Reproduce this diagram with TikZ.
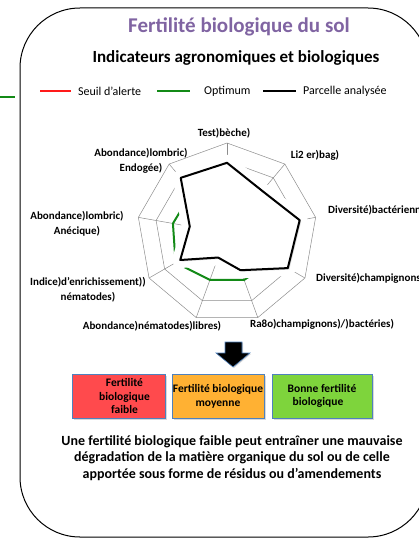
\documentclass[tikz,border=0pt]{standalone}
\usepackage{fontspec}
\setmainfont{Carlito}
\usetikzlibrary{calc,shadows}
\definecolor{titlepurple}{HTML}{8064A2}
\definecolor{alertred}{HTML}{FF1A1A}
\definecolor{optgreen}{HTML}{138A17}
\definecolor{boxred}{HTML}{FF4A4D}
\definecolor{boxorange}{HTML}{FFB133}
\definecolor{boxgreen}{HTML}{7ED43C}
\definecolor{boxedge}{HTML}{4F81BD}
\definecolor{gridgray}{HTML}{8C8C8C}

\begin{document}
\begin{tikzpicture}[x=1pt,y=-1pt,
                every node/.append style={black,inner sep=0pt},
                axislabel/.style={font=\fontsize{11}{15}\selectfont\bfseries,align=center},
                legline/.style={line width=2pt},
                classbox/.style={draw=boxedge,line width=0.6pt,minimum height=44pt,align=center,
                    font=\fontsize{11.5}{13.8}\selectfont\bfseries,
                    drop shadow={opacity=0.3,shadow xshift=1.5pt,shadow yshift=-1.5pt}}
            ]
                \useasboundingbox (0,0) rectangle (419,540);
                \clip (0,0) rectangle (419,540);
                \draw[line width=1pt,rounded corners=60pt] (20,8) rectangle (428,537);
                \draw[optgreen,line width=2.5pt] (0,97) -- (15,97);

                \node[titlepurple,font=\fontsize{21}{24}\selectfont\bfseries] (title) at (239,27) {Fertilité biologique du sol};
                \node[font=\fontsize{17}{20}\selectfont\bfseries] (subtitle) at (236,58) {Indicateurs agronomiques et biologiques};

                % legende
                \coordinate (l1a) at (40,91);  \coordinate (l1b) at (71,91);
                \coordinate (l2a) at (157,91); \coordinate (l2b) at (190,91);
                \coordinate (l3a) at (263,91); \coordinate (l3b) at (296,91);
                \draw[legline,alertred] (l1a) -- (l1b);
                \draw[legline,optgreen] (l2a) -- (l2b);
                \draw[legline,black] (l3a) -- (l3b);
                \node[anchor=west,font=\fontsize{12}{14}\selectfont] (leg1) at (78,91) {Seuil d’alerte};
                \node[anchor=west,font=\fontsize{12}{14}\selectfont] (leg2) at (204,91) {Optimum};
                \node[anchor=west,font=\fontsize{12}{14}\selectfont] (leg3) at (303,91) {Parcelle analysée};

                % toile
                \coordinate (ctr) at (227,233);
                \foreach \a in {90,50,...,-230}
                    \draw[gridgray,line width=0.5pt] (ctr) -- ($(ctr)+(\a:90pt)$);
                \foreach \r in {0.8,1}
                    \draw[gridgray,line width=0.5pt] ($(ctr)+(90:\r*90pt)$)
                        \foreach \a in {50,10,...,-230}{ -- ($(ctr)+(\a:\r*90pt)$)} -- cycle;

                \foreach \v [count=\i] in {0.6,0.6,0.6,0.6,0.555,0.555,0.66,0.61,0.6}
                    \coordinate (o\i) at ($(ctr)+({130-40*\i}:\v*90pt)$);
                \foreach \v [count=\i] in {0.78,0.61,0.82,0.78,0.44,0.29,0.6,0.42,0.8}
                    \coordinate (p\i) at ($(ctr)+({130-40*\i}:\v*90pt)$);

                \draw[optgreen,line width=2pt,line join=round]
                    (o1) -- (o2) -- (o3) -- (o4) -- (o5) -- (o6) -- (o7) -- (o8) -- (o9) -- cycle;
                \draw[white,line width=16pt,line join=round]
                    (p1) -- (p2) -- (p3) -- (p4) -- (p5) -- (p6) -- (p7) -- (p8) -- (p9) -- cycle;
                \draw[black,line width=2pt,line join=round,fill=white,
                      drop shadow={opacity=0.25,shadow xshift=1.5pt,shadow yshift=-1.5pt}]
                    (p1) -- (p2) -- (p3) -- (p4) -- (p5) -- (p6) -- (p7) -- (p8) -- (p9) -- cycle;

                \node[axislabel] (tb) at (224,133) {Test)bèche)};
                \node[axislabel] (lb) at (315,155) {Li2 er)bag)};
                \node[axislabel,anchor=west] (db) at (328,210) {Diversité)bactérienn};
                \node[axislabel,anchor=west] (dc) at (316,278) {Diversité)champignons};
                \node[axislabel] (rcb) at (322,324) {Ra8o)champignons)/)bactéries)};
                \node[axislabel] (anl) at (152,326) {Abondance)nématodes)libres)};
                \node[axislabel] (ien) at (88,289.5) {Indice)d’enrichissement))\\nématodes)};
                \node[axislabel] (ala) at (77,224) {Abondance)lombric)\\Anécique)};
                \node[axislabel] (ale) at (141,160.5) {Abondance)lombric)\\Endogée)};

                % fleche et classes
                \draw[boxedge,fill=black,line width=0.6pt,
                      drop shadow={opacity=0.3,shadow xshift=1pt,shadow yshift=-1pt}]
                    (225,342) -- (242,342) -- (242,353) -- (250,353) -- (233,367)
                    -- (216,353) -- (225,353) -- cycle;
                \node[classbox,fill=boxred,minimum width=93pt] (faible) at (118.5,396) {\hspace*{12pt}Fertilité\\\hspace*{12pt}biologique\\\hspace*{12pt}faible};
                \node[classbox,fill=boxorange,minimum width=92pt] (moyenne) at (218,396) {Fertilité biologique\\moyenne};
                \node[classbox,fill=boxgreen,minimum width=100pt] (bonne) at (322,396) {Bonne fertilité\\\hspace*{-8pt}biologique};

                \node[align=center,font=\fontsize{14}{16.5}\selectfont\bfseries] (note) at (232,458)
                    {Une fertilité biologique faible peut entraîner une mauvaise\\
                     dégradation de la matière organique du sol ou de celle\\
                     apportée sous forme de résidus ou d’amendements};
            \end{tikzpicture}
\end{document}
